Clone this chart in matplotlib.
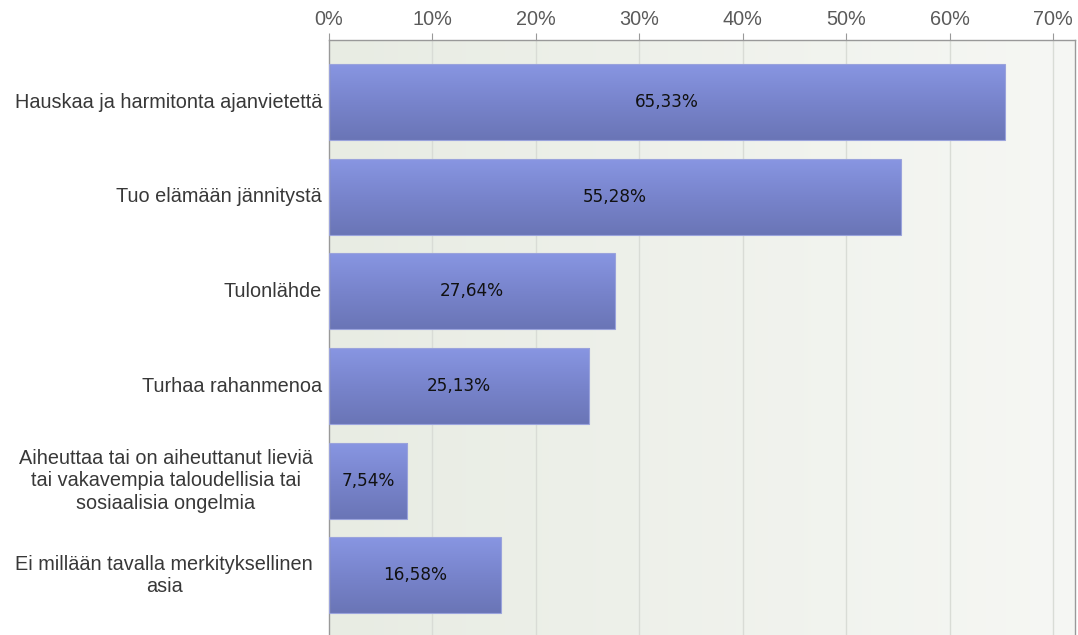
import numpy as np
import matplotlib
matplotlib.use("Agg")
import matplotlib.pyplot as plt
from matplotlib.colors import LinearSegmentedColormap
from matplotlib.transforms import blended_transform_factory, offset_copy

categories = [
    "Hauskaa ja harmitonta ajanvietettä",
    "Tuo elämään jännitystä",
    "Tulonlähde",
    "Turhaa rahanmenoa",
    "Aiheuttaa tai on aiheuttanut lieviä\ntai vakavempia taloudellisia tai\nsosiaalisia ongelmia",
    "Ei millään tavalla merkityksellinen\nasia",
]
values = [65.33, 55.28, 27.64, 25.13, 7.54, 16.58]
ticks = [0, 10, 20, 30, 40, 50, 60, 70]
tick_labels = ["0%", "10%", "20%", "30%", "40%", "50%", "60%", "70%"]

fig = plt.figure(figsize=(10.78, 6.35), dpi=100)
ax = fig.add_axes([329 / 1078, 0.0, (1075 - 329) / 1078, 1 - 40 / 635])

xmax = 72.1
ymin, ymax = 5.63, -0.655
ax.set_xlim(0, xmax)
ax.set_ylim(ymin, ymax)

# background gradient
bg = LinearSegmentedColormap.from_list("bg", ["#e8ece3", "#f6f7f4"])
grad = np.linspace(0, 1, 256).reshape(1, -1)
ax.imshow(grad, cmap=bg, aspect="auto", extent=(0, xmax, ymin, ymax), zorder=0)

for t in ticks[1:]:
    ax.axvline(t, color="#d9dcd6", lw=1.0, zorder=1)

ypos = np.arange(len(categories))
bars = ax.barh(ypos, values, height=0.8, color="none", edgecolor="#9aa3dc", lw=0.8, zorder=3)

barcm = LinearSegmentedColormap.from_list("bar", ["#8896e2", "#7884cc", "#6a75b6"])
vgrad = np.linspace(0, 1, 256).reshape(-1, 1)
for b, v in zip(bars, values):
    y0 = b.get_y()
    h = b.get_height()
    im = ax.imshow(vgrad, cmap=barcm, aspect="auto",
                   extent=(0, v, y0 + h, y0), zorder=2)
    im.set_clip_path(b)
    ax.text(v / 2, y0 + h / 2, f"{v:.2f}%".replace(".", ","), ha="center", va="center",
            fontsize=12.2, color="#111111", family="DejaVu Sans", zorder=4)

ax.set_yticks([])
base = blended_transform_factory(ax.transAxes, ax.transData)
trans = offset_copy(base, fig=fig, x=-5, y=0, units="points")
trans2 = offset_copy(base, fig=fig, x=-11.5, y=0, units="points")
for y, c in zip(ypos, categories):
    ax.text(0, y, c, ha="right", va="center", multialignment="center",
            transform=trans2 if "\n" in c else trans,
            fontsize=14.3, color="#383838", family="Liberation Sans", linespacing=1.24)

ax.xaxis.tick_top()
ax.set_xticks(ticks)
ax.set_xticklabels(tick_labels, fontsize=14.3, color="#5a5a5a", family="Liberation Sans")
ax.tick_params(axis="x", direction="out", length=5, color="#999999", pad=3)

for side in ["top", "left", "right"]:
    ax.spines[side].set_color("#999999")
    ax.spines[side].set_linewidth(1.0)
ax.spines["bottom"].set_visible(False)

fig.savefig("out.png", dpi=100)
